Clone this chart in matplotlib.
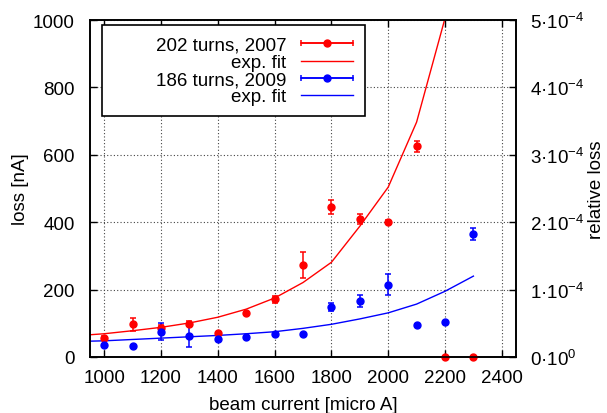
import numpy as np
import matplotlib
matplotlib.use("Agg")
import matplotlib.pyplot as plt
from matplotlib.lines import Line2D
from matplotlib.collections import LineCollection
from matplotlib.container import ErrorbarContainer
from matplotlib.legend_handler import HandlerErrorbar
from matplotlib.patches import Rectangle

plt.rcParams['font.family'] = ['Liberation Sans', 'DejaVu Sans']
plt.rcParams['mathtext.fontset'] = 'custom'
plt.rcParams['mathtext.rm'] = 'Liberation Sans'
plt.rcParams['mathtext.it'] = 'Liberation Sans:italic'
plt.rcParams['mathtext.bf'] = 'Liberation Sans:bold'

# ---- data ----
current = [1000, 1100, 1200, 1300, 1400, 1500, 1600, 1700, 1800, 1900, 2000, 2100, 2200, 2300]
loss_2007 = [56, 97, 86, 99, 71, 130, 171, 274, 446, 410, 402, 625, 0, 0]
err_2007 = [5, 20, 8, 7, 4, 4, 10, 39, 21, 14, 4, 17, 0, 0]
loss_2009 = [36, 33, 75, 61, 53, 59, 68, 67, 149, 166, 215, 94, 104, 365]
err_2009 = [4, 3, 25, 30, 4, 4, 4, 4, 12, 17, 31, 4, 4, 19]

fit_x_2007 = [900, 1000, 1100, 1200, 1300, 1400, 1500, 1600, 1700, 1800, 1900, 2000, 2100, 2200]
fit_y_2007 = [63, 69, 78, 88, 101, 118, 142, 175, 221, 281, 388, 504, 697, 1005]
fit_x_2009 = [900, 1000, 1100, 1200, 1300, 1400, 1500, 1600, 1700, 1800, 1900, 2000, 2100, 2200, 2300]
fit_y_2009 = [46, 48, 52, 56, 60, 64, 69, 75, 85, 97, 113, 131, 157, 195, 240]

x_ticks = [1000, 1200, 1400, 1600, 1800, 2000, 2200, 2400]
y_ticks = [0, 200, 400, 600, 800, 1000]
rel_ticks = [0, 1e-4, 2e-4, 3e-4, 4e-4, 5e-4]
rel_labels = ['0·10$^{0}$', '1·10$^{-4}$', '2·10$^{-4}$', '3·10$^{-4}$', '4·10$^{-4}$', '5·10$^{-4}$']

labels = ['202 turns, 2007', 'exp. fit', '186 turns, 2009', 'exp. fit']

RED = '#ff0000'
BLUE = '#0000ff'
FS = 13.5

fig = plt.figure(figsize=(6.07, 4.14), dpi=100)
ax = fig.add_axes([90/607, 56/414, 426/607, 337/414])

ax.plot(fit_x_2007, fit_y_2007, color=RED, lw=1.0, zorder=2)
ax.plot(fit_x_2009, fit_y_2009, color=BLUE, lw=1.0, zorder=2)
ax.errorbar(current, loss_2007, yerr=err_2007, fmt='o', color=RED, ms=5,
            elinewidth=1.1, capsize=2.5, capthick=1.1, zorder=3, clip_on=False)
ax.errorbar(current, loss_2009, yerr=err_2009, fmt='o', color=BLUE, ms=5,
            elinewidth=1.1, capsize=2.5, capthick=1.1, zorder=3)

ax.set_xlim(950, 2450)
ax.set_ylim(0, 1000)
ax.set_xticks(x_ticks)
ax.set_yticks(y_ticks)
ax.grid(True, color='#444444', linestyle=(0, (1, 2)), linewidth=0.8)
ax.tick_params(direction='in', length=5, width=1, labelsize=FS, top=True, right=False)
ax.tick_params(axis='y', pad=11)
ax.tick_params(axis='x', pad=9)
for s in ax.spines.values():
    s.set_linewidth(1.2)
ax.set_xlabel('beam current [micro A]', fontsize=FS, labelpad=7)
ax.set_ylabel('loss [nA]', fontsize=FS, labelpad=3)

ax2 = ax.twinx()
ax2.set_ylim(0, 5e-4)
ax2.set_yticks(rel_ticks)
ax2.set_yticklabels(rel_labels)
ax2.tick_params(direction='in', length=5, width=1, labelsize=FS, pad=10)
ax2.set_ylabel('relative loss', fontsize=FS, labelpad=3)
for s in ax2.spines.values():
    s.set_linewidth(1.2)

# legend frame
ax.add_patch(Rectangle((0.028, 0.715), 0.6175, 0.27, transform=ax.transAxes,
                       facecolor='white', edgecolor='black', lw=1.2, zorder=4))

def err_proxy(color):
    l = Line2D([], [], color=color, marker='o', ms=5, lw=1.1)
    cap = Line2D([], [], color=color, marker='|', ms=5, markeredgewidth=1.1)
    bars = LineCollection([], colors=color, linewidths=1.1)
    return ErrorbarContainer((l, (cap,), (bars,)), has_xerr=True, has_yerr=False)

handles = [err_proxy(RED), Line2D([], [], color=RED, lw=1.0),
           err_proxy(BLUE), Line2D([], [], color=BLUE, lw=1.0)]
hl = 2.8
leg = ax.legend(handles, labels, loc='upper right', bbox_to_anchor=(0.6174, 0.95),
                frameon=False, markerfirst=False, fontsize=FS, handlelength=hl,
                handletextpad=0.75, labelspacing=0.0, borderpad=0, borderaxespad=0,
                numpoints=1, handler_map={ErrorbarContainer: HandlerErrorbar(xerr_size=hl/2)})
leg.set_zorder(5)

fig.savefig('out.png', dpi=100)
